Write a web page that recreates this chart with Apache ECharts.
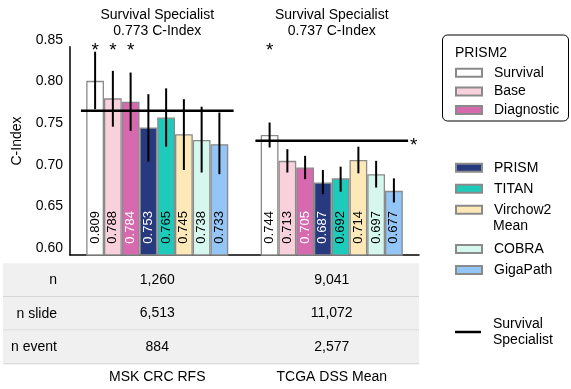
<!DOCTYPE html>
<html><head><meta charset="utf-8">
<script src="https://cdn.jsdelivr.net/npm/echarts@6/dist/echarts.min.js"></script>
<style>html,body{margin:0;padding:0;background:#fff}#c{width:571px;height:389px}</style>
</head><body><div id="c"></div>
<script>
// ---------- data ----------
const categories = ['MSK CRC RFS', 'TCGA DSS Mean'];
const models = ['Survival', 'Base', 'Diagnostic', 'PRISM', 'TITAN', 'Virchow2 Mean', 'COBRA', 'GigaPath'];
const prism2Models = ['Survival', 'Base', 'Diagnostic'];
const otherModelsA = ['PRISM', 'TITAN', 'Virchow2 Mean'];
const otherModelsB = ['COBRA', 'GigaPath'];
const cindexMSK  = [0.809, 0.788, 0.784, 0.753, 0.765, 0.745, 0.738, 0.733];
const cindexTCGA = [0.744, 0.713, 0.705, 0.687, 0.692, 0.714, 0.697, 0.677];
const ciLowMSK   = [0.775, 0.754, 0.749, 0.712, 0.730, 0.702, 0.699, 0.697];
const ciHighMSK  = [0.844, 0.821, 0.819, 0.793, 0.800, 0.787, 0.778, 0.771];
const ciLowTCGA  = [0.729, 0.699, 0.691, 0.673, 0.676, 0.698, 0.681, 0.663];
const ciHighTCGA = [0.759, 0.727, 0.719, 0.702, 0.706, 0.730, 0.713, 0.692];
const starsMSK   = [1, 1, 1, 0, 0, 0, 0, 0];
const starsTCGA  = [1, 0, 0, 0, 0, 0, 0, 0];
const specialistCindex = [0.773, 0.737];
const specialistStar = [0, 1];
const tableRows = ['n', 'n slide', 'n event'];
const nPatients = [1260, 9041];
const nSlides = [6513, 11072];
const nEvents = [884, 2577];
const yMin = 0.60, yMax = 0.85, yStep = 0.05;

// ---------- style ----------
const FONT = '"Liberation Sans", Arial, Helvetica, sans-serif';
const colors = ['#ffffff', '#f9d1dd', '#d76aaf', '#283a7f', '#1ecbbb', '#fde8b8', '#d5f7ee', '#93c5f6'];
const labelColors = ['#000', '#000', '#fff', '#fff', '#000', '#000', '#000', '#000'];
const GAP = 0.186;      // bar category gap fraction
const LINE_HALF = 0.4375; // specialist line half width (fraction of band)

const fmt = n => String(n).replace(/\B(?=(\d{3})+(?!\d))/g, ',');
const cindexBy = [cindexMSK, cindexTCGA];
const lowBy = [ciLowMSK, ciLowTCGA];
const highBy = [ciHighMSK, ciHighTCGA];
const starsBy = [starsMSK, starsTCGA];

const barSeries = models.map((m, i) => ({
  type: 'bar', name: m,
  data: categories.map((c, ci) => cindexBy[ci][i]),
  barGap: '0%', barCategoryGap: (GAP * 100) + '%',
  itemStyle: { color: colors[i], borderColor: '#8a8a8a', borderWidth: 1.3 },
  label: {
    show: true, position: 'insideBottom', rotate: 90, align: 'left', verticalAlign: 'middle',
    distance: 12, fontSize: 13, fontFamily: FONT, color: labelColors[i],
    formatter: p => p.value.toFixed(3)
  },
  z: 2
}));

const errData = [];
categories.forEach((c, ci) => models.forEach((m, mi) => {
  errData.push([ci, mi, lowBy[ci][mi], highBy[ci][mi], starsBy[ci][mi]]);
}));

const errSeries = {
  type: 'custom', name: 'ci', clip: false, z: 5,
  data: errData,
  encode: { x: 0, y: [2, 3] },
  renderItem: (params, api) => {
    const ci = api.value(0), mi = api.value(1);
    const lo = api.coord([ci, api.value(2)]);
    const hi = api.coord([ci, api.value(3)]);
    const band = api.size([1, 0])[0];
    const bw = band * (1 - GAP) / models.length;
    const x = lo[0] + (mi - (models.length - 1) / 2) * bw;
    const children = [{
      type: 'line', shape: { x1: x, y1: hi[1], x2: x, y2: lo[1] },
      style: { stroke: '#000', lineWidth: 2 }
    }];
    if (api.value(4)) {
      const top = api.coord([ci, yMax])[1];
      children.push({
        type: 'text', x: x, y: top + 4,
        style: { text: '*', align: 'center', verticalAlign: 'middle', font: '19px ' + FONT, fill: '#000' }
      });
    }
    return { type: 'group', children };
  }
};

const specSeries = {
  type: 'custom', name: 'Survival Specialist', clip: false, z: 6,
  itemStyle: { color: '#000' },
  data: specialistCindex.map((v, i) => [i, v, specialistStar[i]]),
  encode: { x: 0, y: 1 },
  renderItem: (params, api) => {
    const ci = api.value(0), v = api.value(1);
    const p = api.coord([ci, v]);
    const band = api.size([1, 0])[0];
    const half = band * LINE_HALF;
    const children = [
      { type: 'line', shape: { x1: p[0] - half, y1: p[1], x2: p[0] + half, y2: p[1] },
        style: { stroke: '#000', lineWidth: 2.5 } },
      { type: 'text', x: p[0], y: 7.5,
        style: { text: 'Survival Specialist\n' + v.toFixed(3) + ' C-Index', align: 'center', verticalAlign: 'top',
                 font: '14px ' + FONT, lineHeight: 15.7, fill: '#000' } }
    ];
    if (api.value(2)) {
      children.push({ type: 'text', x: p[0] + half + 2, y: p[1] + 5,
        style: { text: '*', align: 'left', verticalAlign: 'middle', font: '19px ' + FONT, fill: '#000' } });
    }
    return { type: 'group', children };
  }
};

// table background + legend box graphics
const graphics = [];
const bandTops = [263.3, 297, 330.6];
const bandH = 33.6;
bandTops.forEach((t, i) => {
  graphics.push({ type: 'rect', shape: { x: 3, y: t, width: 416, height: bandH }, style: { fill: '#f0f0f0' }, z: -1 });
  graphics.push({ type: 'rect', shape: { x: 3, y: t + bandH - 1, width: 416, height: 1 }, style: { fill: '#d6d6d6' }, z: -1 });
  graphics.push({ type: 'text', x: 57, y: t + bandH / 2, style: { text: tableRows[i], align: 'right', verticalAlign: 'middle', font: '14px ' + FONT, fill: '#000' } });
});
graphics.push({ type: 'rect', shape: { x: 442.5, y: 35, width: 126, height: 86, r: 5 }, style: { fill: 'none', stroke: '#000', lineWidth: 1 } });
graphics.push({ type: 'text', x: 455, y: 53, style: { text: 'PRISM2', align: 'left', verticalAlign: 'middle', font: '14px ' + FONT, fill: '#000' } });
graphics.push({ type: 'text', x: 493, y: 226, style: { text: 'Mean', align: 'left', verticalAlign: 'middle', font: '14px ' + FONT, fill: '#000' } });
graphics.push({ type: 'text', x: 17, y: 141, rotation: Math.PI / 2, style: { text: 'C-Index', align: 'center', verticalAlign: 'middle', font: '14px ' + FONT, fill: '#000' } });

const legendBase = {
  orient: 'vertical', left: 455, padding: 0, itemWidth: 26, itemHeight: 8, icon: 'rect', selectedMode: false,
  textStyle: { fontSize: 14, lineHeight: 16, color: '#000', fontFamily: FONT, padding: [0, 0, 0, 7] }
};

const option = {
  animation: false,
  textStyle: { fontFamily: FONT, color: '#000' },
  grid: { left: 70, right: 152, top: 46.7, bottom: 134 },
  xAxis: {
    type: 'category', data: categories,
    axisLine: { lineStyle: { color: '#000', width: 1.5 } },
    axisTick: { show: false },
    axisLabel: {
      margin: 8, color: '#000', fontFamily: FONT, fontSize: 14, interval: 0,
      formatter: (v, idx) => `{r|${fmt(nPatients[idx])}}\n{r|${fmt(nSlides[idx])}}\n{r|${fmt(nEvents[idx])}}\n{c|${v}}`,
      rich: {
        r: { lineHeight: 33.5, fontSize: 14, fontFamily: FONT, color: '#000' },
        c: { lineHeight: 27, fontSize: 14, fontFamily: FONT, color: '#000' }
      }
    }
  },
  yAxis: {
    type: 'value', min: yMin, max: yMax, interval: yStep,
    axisLine: { show: true, lineStyle: { color: '#000', width: 1.5 } },
    axisTick: { show: false },
    splitLine: { show: false },
    axisLabel: { formatter: v => v.toFixed(2), verticalAlign: 'bottom', margin: 7, fontSize: 14, color: '#000', fontFamily: FONT }
  },
  legend: [
    Object.assign({}, legendBase, { data: prism2Models, top: 64.7, itemGap: 2.7 }),
    Object.assign({}, legendBase, { data: otherModelsA, top: 159.7, itemGap: 5, formatter: n => n.split(' ')[0] }),
    Object.assign({}, legendBase, { data: otherModelsB, top: 241, itemGap: 5 }),
    Object.assign({}, legendBase, { data: ['Survival Specialist'], top: 316, itemHeight: 2.5, formatter: n => n.replace(' ', '\n') })
  ],
  graphic: graphics,
  series: [...barSeries, errSeries, specSeries]
};

const chart = echarts.init(document.getElementById('c'), null, { renderer: 'canvas' });
chart.setOption(option);
</script>
</body></html>
